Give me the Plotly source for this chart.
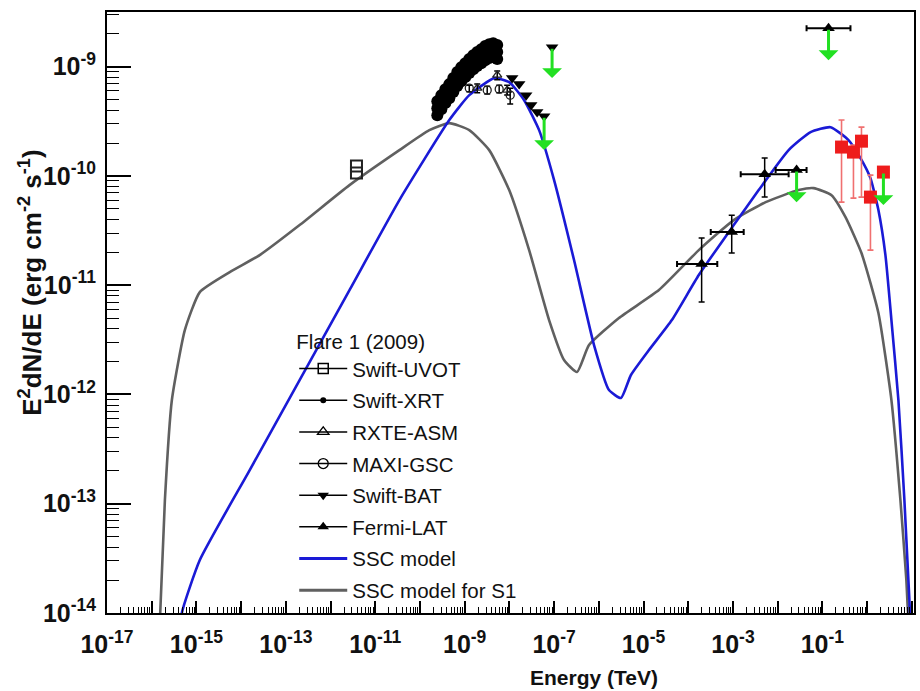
import numpy as np
import plotly.graph_objects as go

# ---------------- values (log10 units) ----------------
# x: log10 Energy [TeV], y: log10 E^2 dN/dE [erg cm^-2 s^-1]

# SSC model (blue)
ssc_logE = [-15.37, -15.326, -14.924, -13.808, -12.692, -11.576, -10.460, -9.344, -8.897, -8.339,
            -8.004, -7.670, -7.335, -7.0, -6.554, -6.107, -5.772, -5.504, -5.281, -4.879,
            -4.366, -3.763, -2.982, -2.424, -1.754, -1.263, -0.817, -0.415, -0.147, 0.076,
            0.254, 0.411, 0.545, 0.701, 0.835, 0.969]
ssc_logF = [-14.25, -14.0, -13.515, -12.692, -11.868, -11.045, -10.221, -9.489, -9.261, -9.105,
            -9.142, -9.307, -9.581, -10.038, -10.770, -11.548, -11.960, -12.033, -11.822, -11.594,
            -11.319, -10.907, -10.450, -10.130, -9.764, -9.599, -9.554, -9.672, -9.837, -10.020,
            -10.313, -10.725, -11.319, -12.051, -12.966, -14.06]

# SSC model for S1 (gray)
s1_logE = [-15.84, -15.705, -15.549, -15.259, -14.924, -14.254, -13.585, -12.692, -11.576, -10.460,
           -9.790, -9.344, -8.897, -8.451, -8.004, -7.558, -7.112, -6.777, -6.487, -6.219,
           -5.549, -4.656, -3.763, -2.982, -2.268, -1.531, -1.196, -0.795, -0.482, -0.125,
           0.254, 0.545, 0.746, 0.879, 0.946]
s1_logF = [-14.3, -12.966, -12.051, -11.411, -11.063, -10.880, -10.725, -10.450, -10.084, -9.764,
           -9.581, -9.517, -9.581, -9.764, -10.130, -10.679, -11.319, -11.685, -11.795, -11.548,
           -11.30, -11.045, -10.679, -10.404, -10.240, -10.130, -10.112, -10.176, -10.377, -10.706,
           -11.255, -12.051, -12.966, -13.698, -14.25]

# Swift-UVOT
uvot_logE = [-11.42, -11.42]
uvot_logF = [-9.910, -9.974]

# Swift-XRT
xrt_logE = [-9.612, -9.522, -9.433, -9.344, -9.254, -9.165, -9.076, -8.987, -8.897, -8.808, -8.719, -8.629, -8.540, -8.451, -8.362, -8.272,
            -9.612, -9.522, -9.433, -9.344, -9.254, -9.165, -9.076, -8.987, -8.897, -8.808, -8.719, -8.629, -8.540, -8.451, -8.362, -8.272,
            -9.612, -9.522, -9.433, -9.344, -9.254, -9.165, -9.076, -8.987, -8.897, -8.808, -8.719, -8.629, -8.540, -8.451, -8.362, -8.272]
xrt_logF = [-9.316, -9.261, -9.206, -9.160, -9.105, -9.050, -9.005, -8.968, -8.931, -8.895, -8.867, -8.840, -8.812, -8.794, -8.785, -8.803,
            -9.380, -9.325, -9.270, -9.224, -9.169, -9.114, -9.069, -9.032, -8.995, -8.959, -8.931, -8.904, -8.877, -8.858, -8.849, -8.867,
            -9.444, -9.389, -9.334, -9.289, -9.233, -9.178, -9.133, -9.096, -9.059, -9.023, -8.995, -8.968, -8.941, -8.922, -8.913, -8.931]

# RXTE-ASM
rxte_logE = [-8.719, -8.272, -8.049]
rxte_logF = [-9.197, -9.078, -9.215]
rxte_logF_lo = [-9.24, -9.12, -9.26]
rxte_logF_hi = [-9.16, -9.04, -9.17]

# MAXI-GSC
maxi_logE = [-8.897, -8.496, -8.228, -7.982]
maxi_logF = [-9.197, -9.215, -9.206, -9.261]
maxi_logF_lo = [-9.23, -9.25, -9.24, -9.343]
maxi_logF_hi = [-9.17, -9.18, -9.17, -9.197]

# Swift-BAT
bat_logE = [-7.938, -7.781, -7.625, -7.513, -7.379, -7.223]
bat_logF = [-9.105, -9.160, -9.261, -9.352, -9.416, -9.453]
bat_ul_logE = [-7.045]
bat_ul_logF = [-8.822]

# Fermi-LAT
lat_logE = [-3.70, -3.027, -2.290]
lat_logF = [-10.807, -10.514, -9.984]
lat_logE_lo = [-4.25, -3.496, -2.826]
lat_logE_hi = [-3.35, -2.759, -1.754]
lat_logF_lo = [-11.155, -10.706, -10.194]
lat_logF_hi = [-10.569, -10.359, -9.837]
lat_ul_logE = [-1.576, -0.862]
lat_ul_logF = [-9.947, -8.648]
lat_ul_logE_lo = [-2.045, -1.353]
lat_ul_logE_hi = [-1.353, -0.371]

# VHE points (red squares)
vhe_logE = [-0.571, -0.304, -0.125, 0.076]
vhe_logF = [-9.736, -9.782, -9.682, -10.194]
vhe_logF_lo = [-10.240, -10.203, -10.194, -10.679]
vhe_logF_hi = [-9.489, -9.718, -9.554, -9.993]
vhe_ul_logE = [0.366]
vhe_ul_logF = [-9.965]

# Upper-limit arrows: (log E, log F tail, log F head)
arrow_logE = [-7.045, -7.223, -1.576, -0.862, 0.366]
arrow_logF_tail = [-8.822, -9.453, -9.947, -8.648, -9.965]
arrow_logF_head = [-9.105, -9.764, -10.240, -8.941, -10.267]

# Axis ticks
x_tick_exps = list(range(-17, 2))
y_tick_exps = list(range(-14, -8))

legend_names = ["Swift-UVOT", "Swift-XRT", "RXTE-ASM", "MAXI-GSC", "Swift-BAT", "Fermi-LAT",
                "SSC model", "SSC model for S1"]

# ------------------------------------------------------------------------------
p = lambda a: np.power(10.0, np.array(a, dtype=float))

BLUE = "#1a1ad6"
GRAY = "#606060"
GREEN = "#22e022"
RED = "#ee1c1c"
FONT = "Arial, Liberation Sans, Helvetica, sans-serif"

fig = go.Figure()

# model curves
fig.add_trace(go.Scatter(x=p(s1_logE), y=p(s1_logF), mode="lines",
                         line=dict(color=GRAY, width=2.6, shape="spline", smoothing=0.5),
                         showlegend=False, hoverinfo="skip"))
fig.add_trace(go.Scatter(x=p(ssc_logE), y=p(ssc_logF), mode="lines",
                         line=dict(color=BLUE, width=2.6, shape="spline", smoothing=0.5),
                         showlegend=False, hoverinfo="skip"))

# Swift-UVOT
fig.add_trace(go.Scatter(x=p(uvot_logE), y=p(uvot_logF), mode="markers",
                         marker=dict(symbol="square-open", size=11, color="#222",
                                     line=dict(width=2)), showlegend=False))
# Swift-XRT
fig.add_trace(go.Scatter(x=p(xrt_logE), y=p(xrt_logF), mode="markers",
                         marker=dict(symbol="circle", size=12, color="black"), showlegend=False))


def yerr(logy, lo, hi):
    y = p(logy)
    return dict(type="data", symmetric=False, array=p(hi) - y, arrayminus=y - p(lo),
                color="black", thickness=1.5, width=3)


def xerr(logx, lo, hi):
    x = p(logx)
    return dict(type="data", symmetric=False, array=p(hi) - x, arrayminus=x - p(lo),
                color="black", thickness=2, width=3)


# RXTE-ASM
fig.add_trace(go.Scatter(x=p(rxte_logE), y=p(rxte_logF), mode="markers",
                         error_y=yerr(rxte_logF, rxte_logF_lo, rxte_logF_hi),
                         marker=dict(symbol="triangle-up-open", size=8, color="#222",
                                     line=dict(width=1.3)), showlegend=False))
# MAXI-GSC
fig.add_trace(go.Scatter(x=p(maxi_logE), y=p(maxi_logF), mode="markers",
                         error_y=yerr(maxi_logF, maxi_logF_lo, maxi_logF_hi),
                         marker=dict(symbol="circle-open", size=8, color="#222",
                                     line=dict(width=1.3)), showlegend=False))
# Swift-BAT
fig.add_trace(go.Scatter(x=p(bat_logE + bat_ul_logE), y=p(bat_logF + bat_ul_logF), mode="markers",
                         marker=dict(symbol="triangle-down", size=11, color="black"),
                         showlegend=False))
# Fermi-LAT
fig.add_trace(go.Scatter(x=p(lat_logE), y=p(lat_logF), mode="markers",
                         error_x=xerr(lat_logE, lat_logE_lo, lat_logE_hi),
                         error_y=yerr(lat_logF, lat_logF_lo, lat_logF_hi),
                         marker=dict(symbol="triangle-up", size=11, color="black"),
                         showlegend=False))
fig.add_trace(go.Scatter(x=p(lat_ul_logE), y=p(lat_ul_logF), mode="markers",
                         error_x=xerr(lat_ul_logE, lat_ul_logE_lo, lat_ul_logE_hi),
                         marker=dict(symbol="triangle-up", size=11, color="black"),
                         showlegend=False))
# VHE red squares
fig.add_trace(go.Scatter(x=p(vhe_logE), y=p(vhe_logF), mode="markers",
                         error_y=dict(type="data", symmetric=False,
                                      array=p(vhe_logF_hi) - p(vhe_logF),
                                      arrayminus=p(vhe_logF) - p(vhe_logF_lo),
                                      color="#f07070", thickness=1.6, width=3),
                         marker=dict(symbol="square", size=13, color=RED),
                         showlegend=False))
fig.add_trace(go.Scatter(x=p(vhe_ul_logE), y=p(vhe_ul_logF), mode="markers",
                         marker=dict(symbol="square", size=13, color=RED), showlegend=False))

# Upper-limit arrows
for xe, yt, yh in zip(arrow_logE, arrow_logF_tail, arrow_logF_head):
    fig.add_annotation(x=xe, y=yh, ax=xe, ay=yt, xref="x", yref="y", axref="x", ayref="y",
                       text="", showarrow=True, arrowhead=1, arrowsize=1.1, arrowwidth=3,
                       arrowcolor=GREEN, standoff=0, startstandoff=0)

# Legend entries
leg_styles = [
    dict(mode="lines+markers", line=dict(color="black", width=1.5),
         marker=dict(symbol="square-open", size=10, color="black", line=dict(width=1.5))),
    dict(mode="lines+markers", line=dict(color="black", width=1.5),
         marker=dict(symbol="circle", size=6, color="black")),
    dict(mode="lines+markers", line=dict(color="black", width=1.5),
         marker=dict(symbol="triangle-up-open", size=10, color="black", line=dict(width=1.3))),
    dict(mode="lines+markers", line=dict(color="black", width=1.5),
         marker=dict(symbol="circle-open", size=10, color="black", line=dict(width=1.3))),
    dict(mode="lines+markers", line=dict(color="black", width=1.5),
         marker=dict(symbol="triangle-down", size=10, color="black")),
    dict(mode="lines+markers", line=dict(color="black", width=1.5),
         marker=dict(symbol="triangle-up", size=10, color="black")),
    dict(mode="lines", line=dict(color=BLUE, width=3)),
    dict(mode="lines", line=dict(color=GRAY, width=3)),
]
for i, (name, st) in enumerate(zip(legend_names, leg_styles)):
    fig.add_trace(go.Scatter(x=[None], y=[None], name=name, legendgroup=f"g{i}",
                             showlegend=True, **st))

# Axis ticks
x_major = [10.0 ** e for e in x_tick_exps]
x_text = []
for e in x_tick_exps:
    if e % 2 == 0:
        x_text.append("")
    elif e == 1:
        x_text.append("<b>10</b>")
    else:
        x_text.append(f"<b>10<sup>{e}</sup></b>")
x_minor = [m * 10.0 ** e for e in range(-17, 1) for m in range(2, 10)]
y_major = [10.0 ** e for e in y_tick_exps]
y_text = [f"<b>10<sup>{e}</sup></b>" for e in y_tick_exps]
y_minor = [m * 10.0 ** e for e in range(-14, -8) for m in range(2, 10)]

fig.update_xaxes(type="log", range=[-17, 1.05], tickvals=x_major, ticktext=x_text,
                 ticks="inside", ticklen=12, tickwidth=1.5, tickcolor="black",
                 showline=True, linecolor="black", linewidth=2, mirror=True,
                 showgrid=False, zeroline=False, ticklabelstandoff=8,
                 minor=dict(tickvals=x_minor, ticks="inside", ticklen=6, tickwidth=1.2,
                            tickcolor="black", showgrid=False),
                 tickfont=dict(family=FONT, size=25, color="#111"))
fig.update_yaxes(type="log", range=[-14, -8.5], tickvals=y_major, ticktext=y_text,
                 ticks="inside", ticklen=24, tickwidth=1.5, tickcolor="black",
                 showline=True, linecolor="black", linewidth=2, mirror=True,
                 showgrid=False, zeroline=False, ticklabelstandoff=4,
                 minor=dict(tickvals=y_minor, ticks="inside", ticklen=12, tickwidth=1.2,
                            tickcolor="black", showgrid=False),
                 tickfont=dict(family=FONT, size=25, color="#111"))

fig.add_annotation(text="<b>Energy (TeV)</b>", xref="paper", yref="paper",
                   x=0.603, y=-0.108, xanchor="center", yanchor="middle", showarrow=False,
                   font=dict(family=FONT, size=21, color="#111"))
fig.add_annotation(text="<b>E<sup>2</sup>dN/dE (erg cm<sup>-2</sup> s<sup>-1</sup>)</b>",
                   xref="paper", yref="paper", x=-0.095, y=0.55, textangle=-90,
                   xanchor="center", yanchor="middle", showarrow=False,
                   font=dict(family=FONT, size=26, color="#111"))

fig.update_layout(
    width=920, height=691,
    margin=dict(l=107, r=4, t=12, b=78),
    paper_bgcolor="white", plot_bgcolor="white",
    font=dict(family=FONT, color="#111"),
    legend=dict(x=0.232, y=0.484, xanchor="left", yanchor="top",
                bgcolor="rgba(0,0,0,0)", borderwidth=0,
                title=dict(text="Flare 1 (2009)", font=dict(family=FONT, size=20.5, color="#111")),
                font=dict(family=FONT, size=20.5, color="#111"),
                traceorder="grouped", tracegroupgap=2, itemwidth=48),
)

fig.write_html("out.html")
